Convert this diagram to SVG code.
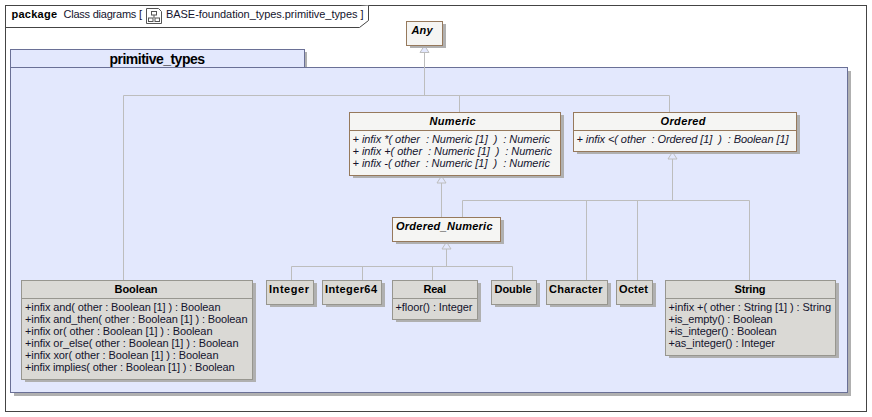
<svg xmlns="http://www.w3.org/2000/svg" width="872" height="417" viewBox="0 0 872 417">
<style>
text{font-family:"Liberation Sans",Arial,sans-serif;font-size:11px;fill:#14142e;white-space:pre}
.l{font-weight:bold;fill:#000}
.i{font-style:italic}
.frame{fill:none;stroke:#444;stroke-width:1}
.pk{fill:#e3e8fd;stroke:#6a7096;stroke-width:1}
.sh{fill:#b0b0b0}
.abs{fill:#f5f5f3;stroke:#96795c;stroke-width:1}
.cl{fill:#dad9d5;stroke:#97968f;stroke-width:1}
.c{fill:none;stroke:#bdbdbd;stroke-width:1}
.h{fill:#e3e8fd;stroke:#bdbdbd;stroke-width:1}
</style>
<rect width="872" height="417" fill="#fff"/>
<g id="frame">
<rect class="frame" x="5.5" y="5.5" width="861" height="406"/>
<path d="M5.5 27.5H359.5L368.5 20.5V5.5" fill="#fff" stroke="#444"/>
<text x="11.5" y="18" class="l" textLength="45.5">package</text>
<text x="63.5" y="18" textLength="78.5">Class diagrams [</text>
<g fill="none" stroke="#555" stroke-width="1"><path d="M146.5 8.5H158.5L161.5 11.5V23.5H146.5Z"/><rect x="151.5" y="11.5" width="5" height="3.5"/><rect x="148.5" y="18" width="4.5" height="3.5"/><rect x="155" y="18" width="4.5" height="3.5"/><path d="M154 15V18"/></g>
<text x="166" y="18" textLength="197.5">BASE-foundation_types.primitive_types ]</text>
</g>
<g id="primitive_types">
<rect class="sh" x="304" y="52" width="3" height="16"/>
<rect class="sh" x="848" y="71" width="3" height="325"/>
<rect class="sh" x="14" y="393" width="837" height="3"/>
<rect class="pk" x="10.5" y="49.5" width="294" height="18"/>
<rect class="pk" x="10.5" y="67.5" width="837" height="325"/>
<text x="109.5" y="64" class="l" style="font-size:14px" textLength="95.5">primitive_types</text>
</g>
<g id="connectors">
<path class="c" d="M424.5 46V95.5M123.5 280V95.5H669.5V112M459.5 95.5V112" />
<path class="c" d="M441.5 176V217"/>
<path class="c" d="M672.5 152V200.5M462.5 217V200.5H749.5V280M586.5 200.5V280M637.5 200.5V280"/>
<path class="c" d="M446.5 242V266.5M291.5 280V266.5H512.5V280M362.5 266.5V280M432.5 266.5V280"/>
<path class="h" d="M424.5 45.5L429 52.5H420Z"/>
<path class="h" d="M441.5 176L446 183H437Z"/>
<path class="h" d="M672.5 152L677 159H668Z"/>
<path class="h" d="M446.5 242L451 249H442Z"/>
</g>
<g id="Any"><rect class="sh" x="410" y="24" width="36" height="24"/><rect class="abs" x="406.5" y="21.5" width="36" height="24"/><text x="411.5" y="34" class="l i" textLength="21">Any</text></g>
<g id="Numeric"><rect class="sh" x="353" y="115" width="211" height="63"/><rect class="abs" x="349.5" y="112.5" width="211" height="63"/><path class="abs" d="M349.5 130.5H560.5"/>
<text x="429.5" y="125" class="l i" textLength="46">Numeric</text>
<text x="352.5" y="143" class="i" textLength="197.5">+ infix *( other  : Numeric [1]  )  : Numeric</text>
<text x="352.5" y="155" class="i" textLength="199.5">+ infix +( other  : Numeric [1]  )  : Numeric</text>
<text x="352.5" y="167" class="i" textLength="197.5">+ infix -( other  : Numeric [1]  )  : Numeric</text></g>
<g id="Ordered"><rect class="sh" x="577" y="115" width="223" height="39"/><rect class="abs" x="573.5" y="112.5" width="223" height="39"/><path class="abs" d="M573.5 130.5H796.5"/>
<text x="660.5" y="125" class="l i" textLength="45">Ordered</text>
<text x="576.5" y="143" class="i" textLength="212">+ infix &lt;( other  : Ordered [1]  )  : Boolean [1]</text></g>
<g id="Ordered_Numeric"><rect class="sh" x="396" y="220" width="108" height="24"/><rect class="abs" x="392.5" y="217.5" width="108" height="24"/><text x="396" y="230" class="l i" textLength="96.5">Ordered_Numeric</text></g>
<g id="Boolean"><rect class="sh" x="25" y="283" width="231" height="99"/><rect class="cl" x="21.5" y="280.5" width="231" height="99"/><path class="cl" d="M21.5 298.5H252.5"/>
<text x="114.5" y="293" class="l" textLength="43">Boolean</text>
<text x="25" y="311" textLength="195.5">+infix and( other : Boolean [1] ) : Boolean</text>
<text x="25" y="323" textLength="222.5">+infix and_then( other : Boolean [1] ) : Boolean</text>
<text x="25" y="335" textLength="187.5">+infix or( other : Boolean [1] ) : Boolean</text>
<text x="25" y="347" textLength="213.5">+infix or_else( other : Boolean [1] ) : Boolean</text>
<text x="25" y="359" textLength="193.5">+infix xor( other : Boolean [1] ) : Boolean</text>
<text x="25" y="371" textLength="209.5">+infix implies( other : Boolean [1] ) : Boolean</text></g>
<g id="Integer"><rect class="sh" x="270" y="283" width="47" height="24"/><rect class="cl" x="266.5" y="280.5" width="47" height="24"/><text x="269" y="293" class="l" textLength="40">Integer</text></g>
<g id="Integer64"><rect class="sh" x="326" y="283" width="59" height="24"/><rect class="cl" x="322.5" y="280.5" width="59" height="24"/><text x="325" y="293" class="l" textLength="52">Integer64</text></g>
<g id="Real"><rect class="sh" x="396" y="283" width="85" height="39"/><rect class="cl" x="392.5" y="280.5" width="85" height="39"/><path class="cl" d="M392.5 298.5H477.5"/><text x="423.5" y="293" class="l" textLength="22.5">Real</text><text x="395.5" y="311" textLength="77">+floor() : Integer</text></g>
<g id="Double"><rect class="sh" x="495" y="283" width="45" height="24"/><rect class="cl" x="491.5" y="280.5" width="45" height="24"/><text x="494.5" y="293" class="l" textLength="37">Double</text></g>
<g id="Character"><rect class="sh" x="550" y="283" width="61" height="24"/><rect class="cl" x="546.5" y="280.5" width="61" height="24"/><text x="549" y="293" class="l" textLength="53.5">Character</text></g>
<g id="Octet"><rect class="sh" x="620" y="283" width="36" height="24"/><rect class="cl" x="616.5" y="280.5" width="36" height="24"/><text x="619" y="293" class="l" textLength="29">Octet</text></g>
<g id="String"><rect class="sh" x="669" y="283" width="170" height="75"/><rect class="cl" x="665.5" y="280.5" width="170" height="75"/><path class="cl" d="M665.5 298.5H835.5"/>
<text x="734.5" y="293" class="l" textLength="31">String</text>
<text x="668.5" y="311" textLength="162.5">+infix +( other : String [1] ) : String</text>
<text x="668.5" y="323" textLength="104">+is_empty() : Boolean</text>
<text x="668.5" y="335" textLength="108">+is_integer() : Boolean</text>
<text x="668.5" y="347" textLength="106.5">+as_integer() : Integer</text></g>
</svg>
